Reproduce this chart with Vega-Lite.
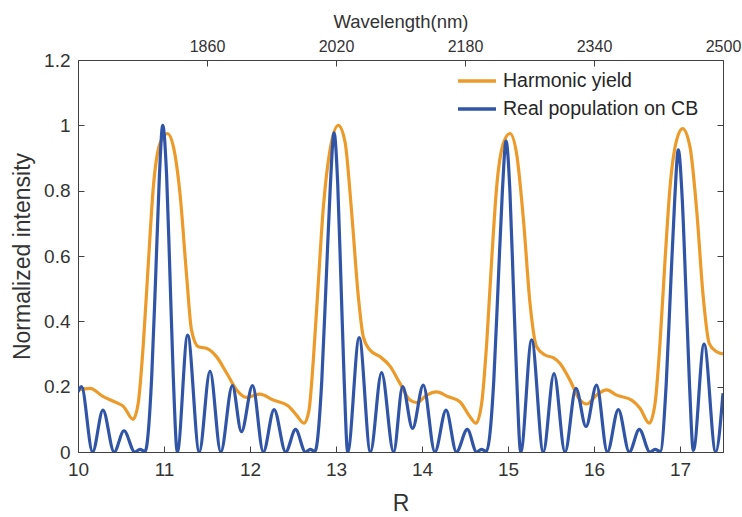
{
  "$schema": "https://vega.github.io/schema/vega-lite/v6.json",
  "width": 645,
  "height": 392,
  "autosize": {"type": "none"},
  "padding": {"left": 78, "top": 60, "right": 19, "bottom": 65},
  "background": "white",
  "config": {
    "font": "Liberation Sans",
    "view": {"stroke": null},
    "axis": {
      "grid": false,
      "domainColor": "#404040",
      "tickColor": "#404040",
      "labelColor": "#333333",
      "titleColor": "#333333",
      "titleFontWeight": "normal",
      "tickSize": -6,
      "labelFlush": false,
      "labelOverlap": false
    },
    "legend": {
      "orient": "none",
      "legendX": 378,
      "legendY": 11,
      "padding": 0,
      "symbolType": "stroke",
      "symbolSize": 1444,
      "symbolStrokeWidth": 3.5,
      "clipHeight": 20,
      "rowPadding": 8,
      "labelOffset": 5,
      "labelFontSize": 19.5,
      "labelColor": "#262626",
      "labelLimit": 400
    }
  },
  "data": {
    "values": [
      {"R": 10.0, "v": 0.19, "s": "Harmonic yield"},
      {"R": 10.14, "v": 0.195, "s": "Harmonic yield"},
      {"R": 10.29, "v": 0.17, "s": "Harmonic yield"},
      {"R": 10.45, "v": 0.151, "s": "Harmonic yield"},
      {"R": 10.53, "v": 0.139, "s": "Harmonic yield"},
      {"R": 10.64, "v": 0.1, "s": "Harmonic yield"},
      {"R": 10.7, "v": 0.149, "s": "Harmonic yield"},
      {"R": 10.76, "v": 0.332, "s": "Harmonic yield"},
      {"R": 10.82, "v": 0.587, "s": "Harmonic yield"},
      {"R": 10.876, "v": 0.811, "s": "Harmonic yield"},
      {"R": 10.953, "v": 0.944, "s": "Harmonic yield"},
      {"R": 11.04, "v": 0.975, "s": "Harmonic yield"},
      {"R": 11.11, "v": 0.934, "s": "Harmonic yield"},
      {"R": 11.186, "v": 0.791, "s": "Harmonic yield"},
      {"R": 11.264, "v": 0.536, "s": "Harmonic yield"},
      {"R": 11.32, "v": 0.373, "s": "Harmonic yield"},
      {"R": 11.4, "v": 0.322, "s": "Harmonic yield"},
      {"R": 11.5, "v": 0.317, "s": "Harmonic yield"},
      {"R": 11.61, "v": 0.292, "s": "Harmonic yield"},
      {"R": 11.73, "v": 0.241, "s": "Harmonic yield"},
      {"R": 11.845, "v": 0.19, "s": "Harmonic yield"},
      {"R": 11.96, "v": 0.167, "s": "Harmonic yield"},
      {"R": 12.116, "v": 0.177, "s": "Harmonic yield"},
      {"R": 12.27, "v": 0.159, "s": "Harmonic yield"},
      {"R": 12.445, "v": 0.141, "s": "Harmonic yield"},
      {"R": 12.54, "v": 0.113, "s": "Harmonic yield"},
      {"R": 12.63, "v": 0.088, "s": "Harmonic yield"},
      {"R": 12.686, "v": 0.128, "s": "Harmonic yield"},
      {"R": 12.736, "v": 0.28, "s": "Harmonic yield"},
      {"R": 12.794, "v": 0.516, "s": "Harmonic yield"},
      {"R": 12.85, "v": 0.74, "s": "Harmonic yield"},
      {"R": 12.93, "v": 0.924, "s": "Harmonic yield"},
      {"R": 13.027, "v": 1.0, "s": "Harmonic yield"},
      {"R": 13.105, "v": 0.949, "s": "Harmonic yield"},
      {"R": 13.18, "v": 0.74, "s": "Harmonic yield"},
      {"R": 13.26, "v": 0.475, "s": "Harmonic yield"},
      {"R": 13.317, "v": 0.353, "s": "Harmonic yield"},
      {"R": 13.395, "v": 0.312, "s": "Harmonic yield"},
      {"R": 13.51, "v": 0.292, "s": "Harmonic yield"},
      {"R": 13.628, "v": 0.263, "s": "Harmonic yield"},
      {"R": 13.744, "v": 0.21, "s": "Harmonic yield"},
      {"R": 13.86, "v": 0.159, "s": "Harmonic yield"},
      {"R": 13.94, "v": 0.151, "s": "Harmonic yield"},
      {"R": 14.055, "v": 0.174, "s": "Harmonic yield"},
      {"R": 14.17, "v": 0.184, "s": "Harmonic yield"},
      {"R": 14.306, "v": 0.169, "s": "Harmonic yield"},
      {"R": 14.44, "v": 0.154, "s": "Harmonic yield"},
      {"R": 14.558, "v": 0.108, "s": "Harmonic yield"},
      {"R": 14.628, "v": 0.088, "s": "Harmonic yield"},
      {"R": 14.694, "v": 0.149, "s": "Harmonic yield"},
      {"R": 14.752, "v": 0.332, "s": "Harmonic yield"},
      {"R": 14.81, "v": 0.587, "s": "Harmonic yield"},
      {"R": 14.868, "v": 0.811, "s": "Harmonic yield"},
      {"R": 14.945, "v": 0.944, "s": "Harmonic yield"},
      {"R": 15.023, "v": 0.975, "s": "Harmonic yield"},
      {"R": 15.1, "v": 0.913, "s": "Harmonic yield"},
      {"R": 15.18, "v": 0.71, "s": "Harmonic yield"},
      {"R": 15.256, "v": 0.455, "s": "Harmonic yield"},
      {"R": 15.333, "v": 0.322, "s": "Harmonic yield"},
      {"R": 15.43, "v": 0.297, "s": "Harmonic yield"},
      {"R": 15.53, "v": 0.288, "s": "Harmonic yield"},
      {"R": 15.605, "v": 0.271, "s": "Harmonic yield"},
      {"R": 15.72, "v": 0.22, "s": "Harmonic yield"},
      {"R": 15.837, "v": 0.159, "s": "Harmonic yield"},
      {"R": 15.915, "v": 0.147, "s": "Harmonic yield"},
      {"R": 16.03, "v": 0.174, "s": "Harmonic yield"},
      {"R": 16.147, "v": 0.19, "s": "Harmonic yield"},
      {"R": 16.264, "v": 0.174, "s": "Harmonic yield"},
      {"R": 16.438, "v": 0.159, "s": "Harmonic yield"},
      {"R": 16.535, "v": 0.134, "s": "Harmonic yield"},
      {"R": 16.643, "v": 0.088, "s": "Harmonic yield"},
      {"R": 16.71, "v": 0.149, "s": "Harmonic yield"},
      {"R": 16.767, "v": 0.332, "s": "Harmonic yield"},
      {"R": 16.826, "v": 0.587, "s": "Harmonic yield"},
      {"R": 16.884, "v": 0.811, "s": "Harmonic yield"},
      {"R": 16.96, "v": 0.954, "s": "Harmonic yield"},
      {"R": 17.03, "v": 0.99, "s": "Harmonic yield"},
      {"R": 17.116, "v": 0.934, "s": "Harmonic yield"},
      {"R": 17.194, "v": 0.74, "s": "Harmonic yield"},
      {"R": 17.27, "v": 0.475, "s": "Harmonic yield"},
      {"R": 17.34, "v": 0.332, "s": "Harmonic yield"},
      {"R": 17.426, "v": 0.307, "s": "Harmonic yield"},
      {"R": 17.5, "v": 0.3, "s": "Harmonic yield"},

      {"R": 10.0, "v": 0.184, "s": "Real population on CB"},
      {"R": 10.04, "v": 0.2, "s": "Real population on CB"},
      {"R": 10.17, "v": 0.0, "s": "Real population on CB"},
      {"R": 10.29, "v": 0.128, "s": "Real population on CB"},
      {"R": 10.42, "v": 0.0, "s": "Real population on CB"},
      {"R": 10.535, "v": 0.065, "s": "Real population on CB"},
      {"R": 10.66, "v": 0.0, "s": "Real population on CB"},
      {"R": 10.72, "v": 0.008, "s": "Real population on CB"},
      {"R": 10.78, "v": 0.002, "s": "Real population on CB"},
      {"R": 10.857, "v": 0.23, "s": "Real population on CB"},
      {"R": 10.903, "v": 0.536, "s": "Real population on CB"},
      {"R": 10.946, "v": 0.842, "s": "Real population on CB"},
      {"R": 10.985, "v": 1.0, "s": "Real population on CB"},
      {"R": 11.031, "v": 0.842, "s": "Real population on CB"},
      {"R": 11.07, "v": 0.536, "s": "Real population on CB"},
      {"R": 11.108, "v": 0.23, "s": "Real population on CB"},
      {"R": 11.155, "v": 0.0, "s": "Real population on CB"},
      {"R": 11.275, "v": 0.358, "s": "Real population on CB"},
      {"R": 11.41, "v": 0.0, "s": "Real population on CB"},
      {"R": 11.535, "v": 0.248, "s": "Real population on CB"},
      {"R": 11.66, "v": 0.0, "s": "Real population on CB"},
      {"R": 11.795, "v": 0.203, "s": "Real population on CB"},
      {"R": 11.9, "v": 0.062, "s": "Real population on CB"},
      {"R": 12.03, "v": 0.203, "s": "Real population on CB"},
      {"R": 12.155, "v": 0.0, "s": "Real population on CB"},
      {"R": 12.28, "v": 0.13, "s": "Real population on CB"},
      {"R": 12.415, "v": 0.0, "s": "Real population on CB"},
      {"R": 12.53, "v": 0.069, "s": "Real population on CB"},
      {"R": 12.645, "v": 0.0, "s": "Real population on CB"},
      {"R": 12.7, "v": 0.008, "s": "Real population on CB"},
      {"R": 12.755, "v": 0.002, "s": "Real population on CB"},
      {"R": 12.835, "v": 0.22, "s": "Real population on CB"},
      {"R": 12.885, "v": 0.52, "s": "Real population on CB"},
      {"R": 12.935, "v": 0.82, "s": "Real population on CB"},
      {"R": 12.977, "v": 0.977, "s": "Real population on CB"},
      {"R": 13.02, "v": 0.82, "s": "Real population on CB"},
      {"R": 13.058, "v": 0.52, "s": "Real population on CB"},
      {"R": 13.095, "v": 0.22, "s": "Real population on CB"},
      {"R": 13.136, "v": 0.0, "s": "Real population on CB"},
      {"R": 13.27, "v": 0.35, "s": "Real population on CB"},
      {"R": 13.4, "v": 0.0, "s": "Real population on CB"},
      {"R": 13.53, "v": 0.243, "s": "Real population on CB"},
      {"R": 13.67, "v": 0.0, "s": "Real population on CB"},
      {"R": 13.775, "v": 0.2, "s": "Real population on CB"},
      {"R": 13.89, "v": 0.072, "s": "Real population on CB"},
      {"R": 14.015, "v": 0.205, "s": "Real population on CB"},
      {"R": 14.15, "v": 0.0, "s": "Real population on CB"},
      {"R": 14.28, "v": 0.128, "s": "Real population on CB"},
      {"R": 14.4, "v": 0.0, "s": "Real population on CB"},
      {"R": 14.527, "v": 0.069, "s": "Real population on CB"},
      {"R": 14.635, "v": 0.0, "s": "Real population on CB"},
      {"R": 14.69, "v": 0.008, "s": "Real population on CB"},
      {"R": 14.75, "v": 0.002, "s": "Real population on CB"},
      {"R": 14.835, "v": 0.22, "s": "Real population on CB"},
      {"R": 14.885, "v": 0.51, "s": "Real population on CB"},
      {"R": 14.935, "v": 0.8, "s": "Real population on CB"},
      {"R": 14.977, "v": 0.952, "s": "Real population on CB"},
      {"R": 15.022, "v": 0.8, "s": "Real population on CB"},
      {"R": 15.062, "v": 0.51, "s": "Real population on CB"},
      {"R": 15.102, "v": 0.22, "s": "Real population on CB"},
      {"R": 15.148, "v": 0.0, "s": "Real population on CB"},
      {"R": 15.275, "v": 0.343, "s": "Real population on CB"},
      {"R": 15.41, "v": 0.0, "s": "Real population on CB"},
      {"R": 15.535, "v": 0.24, "s": "Real population on CB"},
      {"R": 15.663, "v": 0.0, "s": "Real population on CB"},
      {"R": 15.79, "v": 0.195, "s": "Real population on CB"},
      {"R": 15.907, "v": 0.078, "s": "Real population on CB"},
      {"R": 16.03, "v": 0.205, "s": "Real population on CB"},
      {"R": 16.155, "v": 0.0, "s": "Real population on CB"},
      {"R": 16.283, "v": 0.13, "s": "Real population on CB"},
      {"R": 16.41, "v": 0.0, "s": "Real population on CB"},
      {"R": 16.527, "v": 0.069, "s": "Real population on CB"},
      {"R": 16.65, "v": 0.0, "s": "Real population on CB"},
      {"R": 16.71, "v": 0.008, "s": "Real population on CB"},
      {"R": 16.77, "v": 0.002, "s": "Real population on CB"},
      {"R": 16.84, "v": 0.21, "s": "Real population on CB"},
      {"R": 16.89, "v": 0.5, "s": "Real population on CB"},
      {"R": 16.94, "v": 0.78, "s": "Real population on CB"},
      {"R": 16.98, "v": 0.925, "s": "Real population on CB"},
      {"R": 17.025, "v": 0.78, "s": "Real population on CB"},
      {"R": 17.068, "v": 0.5, "s": "Real population on CB"},
      {"R": 17.11, "v": 0.21, "s": "Real population on CB"},
      {"R": 17.155, "v": 0.005, "s": "Real population on CB"},
      {"R": 17.28, "v": 0.33, "s": "Real population on CB"},
      {"R": 17.415, "v": 0.0, "s": "Real population on CB"},
      {"R": 17.5, "v": 0.18, "s": "Real population on CB"}
    ]
  },
  "layer": [
    {
      "mark": {"type": "line", "interpolate": "monotone", "strokeWidth": 3.2, "clip": true},
      "encoding": {
        "x": {
          "field": "R", "type": "quantitative",
          "scale": {"domain": [10, 17.5], "nice": false, "zero": false},
          "axis": {
            "orient": "bottom", "title": "R", "format": "d",
            "values": [10, 11, 12, 13, 14, 15, 16, 17],
            "labelFontSize": 19, "labelPadding": 14,
            "titleFontSize": 23, "titlePadding": 13
          }
        },
        "y": {
          "field": "v", "type": "quantitative",
          "scale": {"domain": [0, 1.2], "nice": false, "zero": false},
          "axis": {
            "orient": "left", "title": "Normalized intensity", "format": "~g",
            "values": [0, 0.2, 0.4, 0.6, 0.8, 1, 1.2],
            "labelFontSize": 19, "labelPadding": 14,
            "titleFontSize": 23, "titlePadding": 9
          }
        },
        "color": {
          "field": "s", "type": "nominal",
          "scale": {"domain": ["Harmonic yield", "Real population on CB"], "range": ["#EC9A29", "#3155A6"]},
          "legend": {"title": null}
        }
      }
    },
    {
      "mark": {"type": "point", "opacity": 0},
      "encoding": {
        "y": {
          "field": "v", "type": "quantitative",
          "axis": {"orient": "right", "title": null, "labels": false,
                   "values": [0, 0.2, 0.4, 0.6, 0.8, 1, 1.2]}
        }
      }
    },
    {
      "data": {"values": [{"w": 1700}, {"w": 2500}]},
      "mark": {"type": "point", "opacity": 0},
      "encoding": {
        "x": {
          "field": "w", "type": "quantitative",
          "scale": {"domain": [1700, 2500], "nice": false, "zero": false},
          "axis": {
            "orient": "top", "title": "Wavelength(nm)", "format": "d",
            "values": [1860, 2020, 2180, 2340, 2500],
            "labelFontSize": 16, "labelPadding": 12,
            "titleFontSize": 18.5, "titlePadding": 7
          }
        }
      }
    }
  ],
  "resolve": {"scale": {"x": "independent"}, "axis": {"x": "independent", "y": "independent"}}
}
